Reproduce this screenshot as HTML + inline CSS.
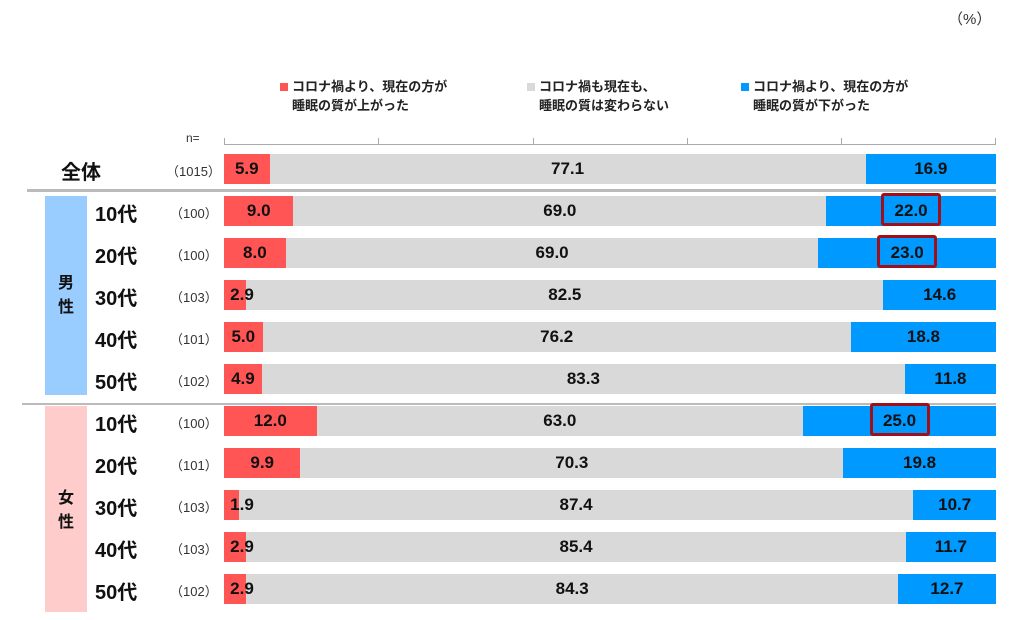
<!DOCTYPE html><html><head><meta charset="utf-8"><style>
body{margin:0;width:1023px;height:620px;background:#fff;position:relative;overflow:hidden;font-family:"Liberation Sans","Noto Sans CJK JP",sans-serif}
div{position:absolute;white-space:nowrap}
.lg{font-size:13px;font-weight:bold;line-height:19px;color:#222}
.sq{width:8px;height:8px}
.b{height:30px}
.v{font-size:17px;font-weight:bold;color:#111;line-height:30px;text-align:center;width:60px}
.rl{font-size:20px;font-weight:bold;color:#111}
.n{font-size:13px;color:#333}
.hl{border:3px solid #a0101a;border-radius:3px;height:27px;width:54px}
</style></head><body>
<div style="left:948px;top:8px;font-size:15px;color:#333">（%）</div>
<div class="sq" style="left:280px;top:83px;background:#f55"></div>
<div class="lg" style="left:292px;top:77px">コロナ禍より、現在の方が<br>睡眠の質が上がった</div>
<div class="sq" style="left:527px;top:83px;background:#d9d9d9"></div>
<div class="lg" style="left:539px;top:77px">コロナ禍も現在も、<br>睡眠の質は変わらない</div>
<div class="sq" style="left:741px;top:83px;background:#09f"></div>
<div class="lg" style="left:753px;top:77px">コロナ禍より、現在の方が<br>睡眠の質が下がった</div>
<div style="left:186px;top:131px;font-size:12px;color:#333">n=</div>
<div style="left:224px;top:144px;width:772px;height:1px;background:#aaa"></div>
<div style="left:27px;top:189px;width:969px;height:3px;background:#bbb"></div>
<div style="left:22px;top:403px;width:974px;height:2px;background:#bbb"></div>
<div style="left:45px;top:196px;width:42px;height:199px;background:#9cf"></div>
<div style="left:45px;top:406px;width:42px;height:206px;background:#fcc"></div>
<div style="left:58px;top:272px;font-size:16px;font-weight:bold;line-height:24px;color:#111">男<br>性</div>
<div style="left:58px;top:487px;font-size:16px;font-weight:bold;line-height:24px;color:#111">女<br>性</div>
<div id="c"></div>
<script>
var c=document.getElementById('c'),h='';
[224,378,533,687,841,995].forEach(function(x){h+='<div style="left:'+x+'px;top:138px;width:1px;height:7px;background:#aaa"></div>'});
var rows=[["全体","1015",5.9,77.1,16.9,0],["10代","100",9.0,69.0,22.0,1],["20代","100",8.0,69.0,23.0,1],["30代","103",2.9,82.5,14.6,0],["40代","101",5.0,76.2,18.8,0],["50代","102",4.9,83.3,11.8,0],["10代","100",12.0,63.0,25.0,1],["20代","101",9.9,70.3,19.8,0],["30代","103",1.9,87.4,10.7,0],["40代","103",2.9,85.4,11.7,0],["50代","102",2.9,84.3,12.7,0]];
var k=7.72;
rows.forEach(function(r,i){
 var y=i==0?154:196+(i-1)*42;
 var rw=r[2]*k,bw=r[4]*k,bx=996-bw;
 h+='<div class="b" style="left:224px;top:'+y+'px;width:'+(bx-224)+'px;background:#d9d9d9"></div>';
 h+='<div class="b" style="left:224px;top:'+y+'px;width:'+rw+'px;background:#f55"></div>';
 h+='<div class="b" style="left:'+bx+'px;top:'+y+'px;width:'+bw+'px;background:#09f"></div>';
 var rc=224+Math.max(rw,36)/2, gc=(224+rw+bx)/2, bc=bx+bw/2;
 h+='<div class="v" style="left:'+(rc-30)+'px;top:'+y+'px">'+r[2].toFixed(1)+'</div>';
 h+='<div class="v" style="left:'+(gc-30)+'px;top:'+y+'px">'+r[3].toFixed(1)+'</div>';
 h+='<div class="v" style="left:'+(bc-30)+'px;top:'+y+'px">'+r[4].toFixed(1)+'</div>';
 if(r[5])h+='<div class="hl" style="left:'+(bc-30)+'px;top:'+(y-3)+'px"></div>';
 if(i==0)h+='<div class="rl" style="left:61px;top:'+(y+2)+'px">全体</div>';
 else h+='<div class="rl" style="left:95px;top:'+(y+2)+'px">'+r[0]+'</div>';
 var ns=r[1].length==4?'left:166px':'left:170px';
 h+='<div class="n" style="'+ns+';top:'+(y+7)+'px">（'+r[1]+'）</div>';
});
c.innerHTML=h;
</script>
</body></html>
